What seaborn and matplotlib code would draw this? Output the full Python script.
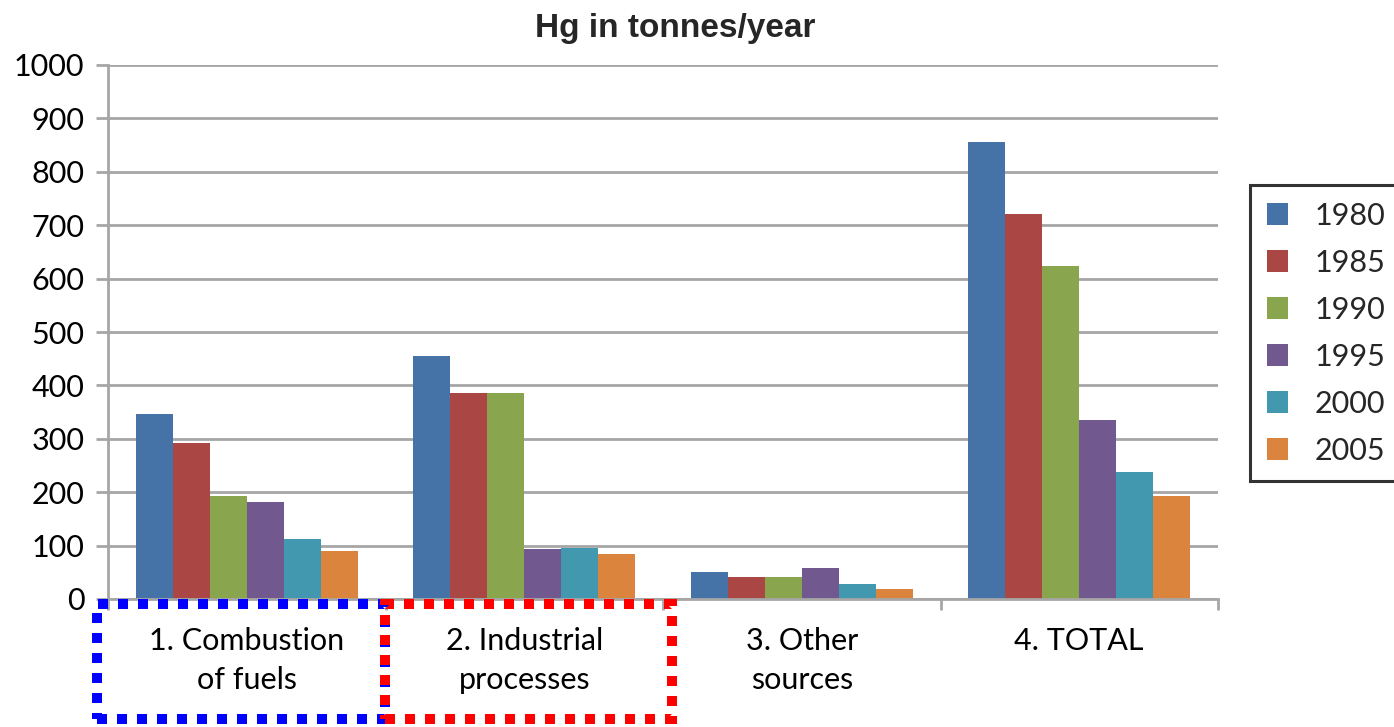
import matplotlib
matplotlib.use("Agg")
import matplotlib.pyplot as plt
from matplotlib.patches import Rectangle
from matplotlib.ticker import FixedLocator
import seaborn as sns
import pandas as pd

# Mercury emissions (tonnes/year) by source and year
categories = ["1. Combustion\nof fuels", "2. Industrial\nprocesses", "3. Other\nsources", "4. TOTAL"]
years = ["1980", "1985", "1990", "1995", "2000", "2005"]
combustion = [346, 292, 193, 182, 112, 90]
industrial = [455, 386, 386, 94, 96, 84]
other = [51, 41, 41, 58, 28, 19]
total = [856, 721, 624, 335, 238, 193]
yticks = [0, 100, 200, 300, 400, 500, 600, 700, 800, 900, 1000]

palette = ["#4572A7", "#AA4643", "#89A54E", "#71588F", "#4198AF", "#DB843D"]

rows = []
for cat, vals in zip(categories, [combustion, industrial, other, total]):
    for yr, v in zip(years, vals):
        rows.append({"source": cat, "year": yr, "value": v})
df = pd.DataFrame(rows)

sns.set_theme(style="white")
plt.rcParams["font.family"] = ["Lato", "DejaVu Sans"]

W, H = 1394, 727
fig = plt.figure(figsize=(W / 100, H / 100), dpi=100)
ax = fig.add_axes([108 / W, 1 - 599 / H, (1218 - 108) / W, (599 - 65) / H])

sns.barplot(data=df, x="source", y="value", hue="year", order=categories,
            hue_order=years, palette=palette, width=0.8, linewidth=0,
            saturation=1, ax=ax, legend=True)

grid_c = "#A6A6A6"
ax.set_ylim(0, 1000)
ax.set_xlim(-0.5, len(categories) - 0.5)
ax.set_yticks(yticks)
ax.yaxis.grid(True, color=grid_c, linewidth=2.0)
ax.set_axisbelow(True)
for s in ["top", "right"]:
    ax.spines[s].set_visible(False)
for s in ["left", "bottom"]:
    ax.spines[s].set_color(grid_c)
    ax.spines[s].set_linewidth(2.0)

ax.set_xlabel("")
ax.set_ylabel("")
ax.tick_params(axis="y", which="major", length=9, width=2.0, color=grid_c,
               labelsize=22, labelcolor="black", pad=8, left=True)
ax.tick_params(axis="x", which="major", length=0, labelsize=22,
               labelcolor="black", pad=20)
ax.xaxis.set_minor_locator(FixedLocator([i + 0.5 for i in range(-1, len(categories))]))
ax.tick_params(axis="x", which="minor", length=8, width=2.0, color=grid_c, bottom=True)
for lbl in ax.get_xticklabels():
    lbl.set_linespacing(1.48)

fig.text(675 / W, 1 - 29 / H, "Hg in tonnes/year", ha="center", va="center",
         fontsize=24, fontweight="bold", family=["Liberation Sans", "DejaVu Sans"])

handles, labels = ax.get_legend_handles_labels()
ax.get_legend().remove()
leg = fig.legend(handles, labels, loc="upper left",
                 bbox_to_anchor=(1250 / W, 1 - 185 / H), bbox_transform=fig.transFigure,
                 borderaxespad=0, fontsize=22, frameon=True, fancybox=False,
                 handlelength=0.7, handleheight=0.7, handletextpad=0.85,
                 labelspacing=0.62, borderpad=0.55)
leg.get_frame().set_edgecolor("black")
leg.get_frame().set_linewidth(2.2)

# Dotted highlight boxes around the first two source labels
box_kw = dict(fill=False, linewidth=7.2, linestyle=(0, (1, 1)),
              transform=fig.transFigure, clip_on=False)
fig.patches.append(Rectangle((97 / W, 1 - 719 / H), (385 - 97) / W, (719 - 604) / H,
                             edgecolor="#0000FF", **box_kw))
fig.patches.append(Rectangle((385 / W, 1 - 719 / H), (672 - 385) / W, (719 - 604) / H,
                             edgecolor="#FF0000", **box_kw))

fig.savefig("out.png", dpi=100)
